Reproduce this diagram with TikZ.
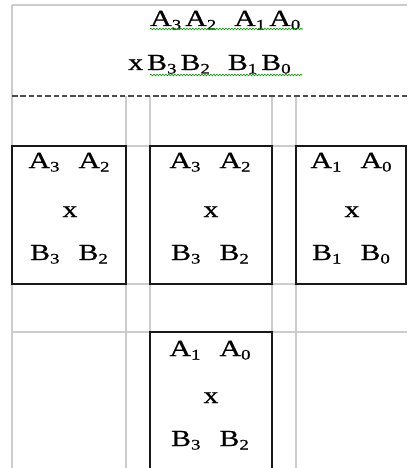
\documentclass[tikz,border=0pt]{standalone}
\usepackage{fontspec}
\setmainfont[FakeStretch=1.3,FakeBold=0.6]{Liberation Serif}
\usetikzlibrary{decorations.pathmorphing}
\newcommand{\sbd}[1]{\raisebox{-3.5pt}{\fontsize{14.5}{14.5}\selectfont #1}\kern2pt}
\newcommand{\sbh}[1]{\raisebox{-3.5pt}{\fontsize{14.5}{14.5}\selectfont #1}\kern4pt}
\begin{document}
\begin{tikzpicture}[x=1pt,y=-1pt,
  gridline/.style={draw=black!20, line width=1.1pt},
  boxline/.style={draw=black!90, line width=1.3pt},
  dashline/.style={draw=black!70, line width=1.3pt, dash pattern=on 5.5pt off 2.8pt},
  wavy/.style={draw=green!60!black, line width=0.6pt, decorate, decoration={snake, segment length=3pt, amplitude=0.8pt}},
  txt/.style={anchor=base, inner sep=0pt, font=\fontsize{23}{23}\selectfont},
  txtw/.style={txt, anchor=base west}
]
\useasboundingbox (0,0) rectangle (407,468);
\fill[white] (0,0) rectangle (407,468);
% grid
\draw[gridline] (12,5) -- (407,5);
\draw[gridline] (12,5) -- (12,468);
\foreach \gx in {126,150,272,296} \draw[gridline] (\gx,96) -- (\gx,468);
\foreach \gy in {146,284,332} \draw[gridline] (12,\gy) -- (407,\gy);
\draw[dashline] (12,96) -- (407,96);
% header
\node[txtw] (h1) at (150,26) {A\sbh{3}A\sbh{2}\hspace{14pt}A\sbh{1}A\sbh{0}};
\node[txtw] (h2) at (128,70) {x\hspace{4pt}B\sbh{3}B\sbh{2}\hspace{14pt}B\sbh{1}B\sbh{0}};
\draw[wavy] (150,29) -- (303,29);
\draw[wavy] (150,75) -- (302,75);
% boxes
\draw[boxline] (12,146) rectangle (126,284);
\draw[boxline] (150,146) rectangle (272,284);
\draw[boxline] (296,146) rectangle (406,284);
\draw[boxline] (150,468) -- (150,332) -- (272,332) -- (272,468);
% box texts
\node[txt] (a1) at (70,168) {A\sbd{3}\hspace{17pt}A\sbd{2}};
\node[txt] (x1) at (70,217) {x};
\node[txt] (b1) at (70,260) {B\sbd{3}\hspace{17pt}B\sbd{2}};
\node[txt] (a2) at (211,168) {A\sbd{3}\hspace{17pt}A\sbd{2}};
\node[txt] (x2) at (211,217) {x};
\node[txt] (b2) at (211,260) {B\sbd{3}\hspace{17pt}B\sbd{2}};
\node[txt] (a3) at (352,168) {A\sbd{1}\hspace{17pt}A\sbd{0}};
\node[txt] (x3) at (352,217) {x};
\node[txt] (b3) at (352,260) {B\sbd{1}\hspace{17pt}B\sbd{0}};
\node[txt] (a4) at (211,356) {A\sbd{1}\hspace{17pt}A\sbd{0}};
\node[txt] (x4) at (211,403) {x};
\node[txt] (b4) at (211,446) {B\sbd{3}\hspace{17pt}B\sbd{2}};
\end{tikzpicture}
\end{document}
